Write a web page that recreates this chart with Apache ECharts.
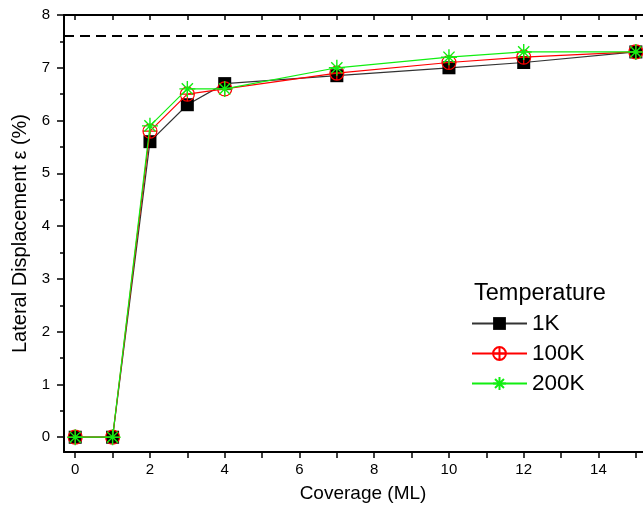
<!DOCTYPE html>
<html><head><meta charset="utf-8">
<script src="https://cdn.jsdelivr.net/npm/echarts@6/dist/echarts.min.js"></script>
<style>html,body{margin:0;padding:0;background:#fff}#c{width:643px;height:506px}</style>
</head><body><div id="c"></div>
<script>
const coverage = [0, 1, 2, 3, 4, 7, 10, 12, 15];
const t1K   = [0, 0, 5.6, 6.3, 6.7, 6.85, 7.0, 7.1, 7.3];
const t100K = [0, 0, 5.8, 6.5, 6.6, 6.9, 7.1, 7.2, 7.3];
const t200K = [0, 0, 5.9, 6.6, 6.6, 7.0, 7.2, 7.3, 7.3];
const seriesNames = ['1K', '100K', '200K'];
const limitValue = 7.6;
const xLabelTicks = [0, 2, 4, 6, 8, 10, 12, 14];
const xTicks = [0,1,2,3,4,5,6,7,8,9,10,11,12,13,14,15];
const yLabelTicks = [0,1,2,3,4,5,6,7,8];
const yMinorTicks = [0.5,1.5,2.5,3.5,4.5,5.5,6.5,7.5];

const FONT = '"Liberation Sans", Arial, sans-serif';
const pairs = arr => coverage.map((x, i) => [x, arr[i]]);
const circlePlus = 'path://M0,10A10,10 0 1,1 20,10A10,10 0 1,1 0,10Z M10,0L10,20 M0,10L20,10';
const asterisk = 'path://M10,0L10,20M0,10L20,10M3,3L17,17M3,17L17,3';

const chart = echarts.init(document.getElementById('c'), null, {renderer: 'canvas'});
const X_MIN = -0.3, X_MAX = 15.7, Y_MIN = -0.28, Y_MAX = 8;
const gridBox = {left: 64, top: 15, width: 598, bottom: 54, containLabel: false, outerBoundsMode: 'none'};
chart.setOption({
  animation: false,
  backgroundColor: '#fff',
  textStyle: {fontFamily: FONT},
  title: {text: 'Temperature', left: 469, top: 277,
    textStyle: {fontFamily: FONT, fontSize: 23.5, fontWeight: 'normal', color: '#000'}},
  legend: {
    data: seriesNames, orient: 'vertical', left: 466, top: 307,
    itemWidth: 55, itemHeight: 16, itemGap: 7,
    textStyle: {fontFamily: FONT, fontSize: 22.5, color: '#000'}
  },
  grid: [Object.assign({}, gridBox), Object.assign({}, gridBox)],
  xAxis: [
    {
      type: 'value', gridIndex: 0, min: X_MIN, max: X_MAX, position: 'bottom',
      splitLine: {show: false},
      name: 'Coverage (ML)', nameLocation: 'middle', nameGap: 32,
      nameTextStyle: {fontFamily: FONT, fontSize: 19, color: '#000'},
      axisLine: {show: true, onZero: false, lineStyle: {color: '#000', width: 2}},
      axisTick: {show: true, customValues: xTicks, length: 6, lineStyle: {color: '#000', width: 1.5}},
      axisLabel: {customValues: xLabelTicks, margin: 10, fontFamily: FONT, fontSize: 15, color: '#000'}
    },
    {
      type: 'value', gridIndex: 0, min: X_MIN, max: X_MAX, position: 'top',
      splitLine: {show: false},
      axisLine: {show: true, onZero: false, lineStyle: {color: '#000', width: 2}},
      axisTick: {show: true, inside: true, customValues: xTicks, length: 5, lineStyle: {color: '#000', width: 1.5}},
      axisLabel: {show: false}
    },
    {
      type: 'value', gridIndex: 1, min: X_MIN, max: X_MAX, show: false
    }
  ],
  yAxis: [
    {
      type: 'value', gridIndex: 0, min: Y_MIN, max: Y_MAX, position: 'left',
      name: 'Lateral Displacement ε (%)', nameLocation: 'middle', nameGap: 34,
      nameTextStyle: {fontFamily: FONT, fontSize: 20, color: '#000'},
      splitLine: {show: false},
      axisLine: {show: true, onZero: false, lineStyle: {color: '#000', width: 2}},
      axisTick: {show: true, customValues: yLabelTicks, length: 7, lineStyle: {color: '#000', width: 1.5}},
      axisLabel: {customValues: yLabelTicks, margin: 14, fontFamily: FONT, fontSize: 15, color: '#000'}
    },
    {
      type: 'value', gridIndex: 1, min: Y_MIN, max: Y_MAX, position: 'left',
      splitLine: {show: false},
      axisLine: {show: false, onZero: false},
      axisTick: {show: true, customValues: yMinorTicks, length: 4, lineStyle: {color: '#000', width: 1.5}},
      axisLabel: {show: false}
    }
  ],
  series: [
    {
      name: '1K', type: 'line', data: pairs(t1K), xAxisIndex: 0, yAxisIndex: 0,
      symbol: 'rect', symbolSize: 13, showAllSymbol: true,
      lineStyle: {color: '#333', width: 1.2},
      itemStyle: {color: '#000', borderColor: '#000', borderWidth: 0},
      z: 3,
      markLine: {
        silent: true, symbol: ['none', 'none'], label: {show: false},
        lineStyle: {color: '#000', type: [10, 6], width: 2},
        data: [{yAxis: limitValue}]
      }
    },
    {
      name: '100K', type: 'line', data: pairs(t100K), xAxisIndex: 0, yAxisIndex: 0,
      symbol: circlePlus, symbolSize: 14, showAllSymbol: true,
      lineStyle: {color: '#ff0000', width: 1.2},
      itemStyle: {color: 'transparent', borderColor: '#ff0000', borderWidth: 1.2},
      z: 4
    },
    {
      name: '200K', type: 'line', data: pairs(t200K), xAxisIndex: 0, yAxisIndex: 0,
      symbol: asterisk, symbolSize: 16, showAllSymbol: true,
      lineStyle: {color: '#11ee11', width: 1.2},
      itemStyle: {color: 'transparent', borderColor: '#11ee11', borderWidth: 1.4},
      z: 5
    }
  ]
});
</script></body></html>
